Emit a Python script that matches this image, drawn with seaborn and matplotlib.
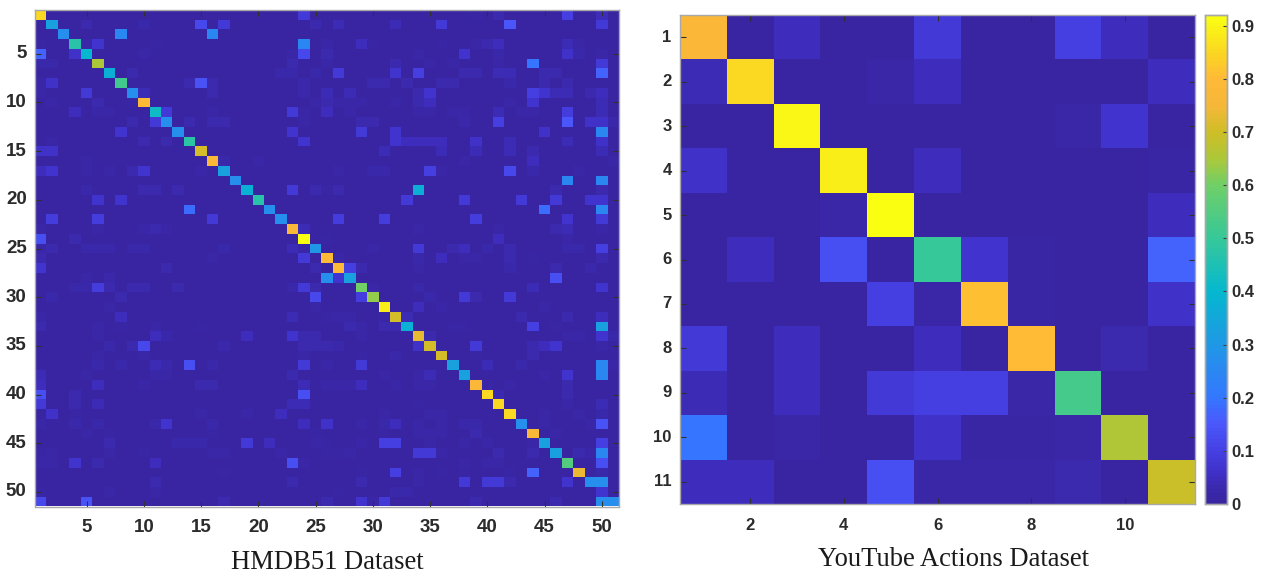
import numpy as np
import pandas as pd
import seaborn as sns
import matplotlib.pyplot as plt
from matplotlib.colors import LinearSegmentedColormap

# HMDB51 matrix, diagonal values row by row
hmdb_diag = [.855, .33, .27, .47, .40, .65, .37, .52, .27, .80,
             .42, .27, .27, .48, .71, .77, .33, .27, .38, .47,
             .27, .27, .77, .92, .30, .80, .79, .33, .60, .63,
             .885, .71, .38, .73, .71, .71, .33, .33, .78, .85,
             .85, .85, .27, .77, .33, .33, .55, .74, .27, .07, .27]

# HMDB51 off diagonal cells, one list per row, (column, value)
hmdb_off = [
    [(24, .08), (47, .10), (50, .05), (41, .03), (39, .01)],
    [(5, .03), (10, .025), (15, .12), (17, .08), (25, .03), (27, .04), (32, .04), (36, .08), (42, .15), (50, .08)],
    [(8, .25), (16, .25)],
    [(6, .07), (5, .02), (1, .01), (11, .01), (24, .25), (26, .015), (29, .05), (30, .01), (36, .01), (39, .015), (40, .03), (41, .05), (47, .04), (48, .015)],
    [(1, .17), (4, .06), (10, .02), (23, .02), (24, .12), (26, .03), (34, .02), (38, .07), (41, .025), (47, .06), (48, .025), (50, .02)],
    [(1, .025), (2, .025), (23, .03), (26, .015), (32, .03), (35, .015), (37, .02), (41, .02), (44, .20), (50, .08)],
    [(9, .03), (22, .025), (23, .025), (25, .025), (27, .08), (32, .07), (34, .10), (38, .035), (39, .035), (41, .04), (42, .04), (45, .035), (46, .035), (50, .17)],
    [(1, .015), (2, .06), (14, .03), (15, .14), (16, .03), (24, .025), (30, .03), (31, .03), (33, .03), (36, .035), (37, .035), (42, .025), (45, .03), (47, .03)],
    [(1, .02), (5, .08), (10, .04), (16, .035), (24, .025), (26, .04), (28, .04), (34, .03), (35, .07), (44, .10), (45, .07), (46, .04), (47, .04), (49, .03), (50, .05)],
    [(2, .02), (6, .03), (9, .01), (25, .015), (26, .03), (27, .02), (28, .02), (29, .02), (32, .02), (34, .03), (35, .05), (42, .02), (44, .07), (50, .04)],
    [(4, .05), (6, .02), (7, .02), (12, .08), (16, .02), (23, .08), (24, .02), (26, .05), (28, .015), (34, .02), (35, .02), (37, .02), (38, .02), (41, .04), (43, .02), (44, .02), (47, .09), (50, .04)],
    [(9, .03), (11, .08), (14, .03), (16, .03), (17, .03), (24, .02), (29, .035), (30, .035), (38, .025), (41, .10), (47, .15), (49, .06), (50, .06), (51, .025)],
    [(8, .07), (23, .07), (29, .08), (32, .07), (45, .06), (50, .25)],
    [(2, .02), (10, .03), (12, .03), (24, .07), (32, .07), (33, .045), (34, .045), (35, .045), (36, .045), (39, .06), (42, .04), (47, .04), (50, .06)],
    [(1, .06), (2, .06), (31, .04), (36, .04), (39, .04), (42, .04), (44, .03), (50, .04)],
    [(5, .015), (17, .025), (20, .02), (38, .02), (44, .05), (51, .02)],
    [(1, .05), (2, .07), (5, .02), (7, .02), (9, .03), (10, .07), (15, .02), (27, .02), (30, .025), (31, .025), (35, .10), (36, .02), (42, .12), (44, .025), (48, .02)],
    [(47, .25), (50, .25)],
    [(5, .025), (10, .03), (11, .03), (13, .03), (23, .08), (25, .03), (26, .01), (27, .03), (34, .37), (46, .03), (50, .03)],
    [(6, .07), (8, .07), (33, .08), (38, .08), (43, .08), (46, .08), (49, .07), (50, .07)],
    [(14, .18), (45, .18), (50, .25)],
    [(2, .09), (6, .09), (16, .08), (27, .09), (31, .09), (39, .09), (47, .07), (50, .08)],
    [(1, .02), (6, .015), (10, .015), (11, .03), (12, .015), (24, .04), (34, .02), (41, .02), (46, .03), (47, .04), (50, .02)],
    [(1, .13), (4, .03), (26, .01), (41, .05), (47, .02)],
    [(1, .02), (2, .03), (5, .025), (6, .025), (7, .025), (9, .025), (10, .025), (17, .025), (23, .04), (24, .02), (30, .02), (34, .08), (37, .03), (38, .05), (40, .025), (42, .03), (47, .025), (48, .025), (50, .10)],
    [(1, .03), (16, .015), (24, .08), (27, .015), (34, .025), (36, .05), (38, .015), (39, .015), (42, .03), (44, .01), (50, .03)],
    [(1, .07), (12, .03), (25, .03), (28, .10), (29, .03), (34, .02), (42, .025), (46, .03), (49, .025)],
    [(5, .02), (7, .025), (26, .27), (27, .07), (46, .13)],
    [(4, .025), (5, .025), (6, .09), (7, .03), (9, .03), (10, .03), (13, .03), (23, .025), (24, .08), (25, .03), (30, .02), (34, .025), (44, .04), (50, .07)],
    [(2, .025), (8, .03), (25, .12), (29, .09), (35, .025), (38, .08), (39, .03), (42, .08)],
    [(7, .02), (25, .02), (34, .05), (36, .02), (45, .02)],
    [(1, .015), (8, .05), (23, .04), (26, .01), (27, .015), (28, .015), (31, .015), (33, .04), (43, .03), (47, .03), (50, .05)],
    [(1, .03), (6, .015), (8, .01), (11, .02), (15, .01), (28, .03), (29, .015), (31, .03), (32, .03), (37, .01), (38, .01), (44, .10), (46, .01), (50, .33)],
    [(6, .02), (11, .05), (12, .025), (19, .05), (23, .07), (24, .03), (25, .03), (29, .02), (35, .03), (47, .02), (48, .02), (50, .07), (51, .025)],
    [(7, .025), (9, .03), (10, .12), (17, .025), (24, .03), (25, .03), (26, .03), (27, .025), (34, .06), (39, .08), (44, .03), (45, .05), (46, .07), (50, .02)],
    [(6, .015), (10, .015), (24, .015), (29, .01), (32, .025), (39, .01), (44, .03)],
    [(6, .025), (8, .025), (11, .04), (12, .025), (14, .13), (16, .025), (24, .08), (26, .02), (29, .08), (40, .04), (43, .025), (50, .25), (51, .02)],
    [(1, .04), (5, .02), (11, .02), (12, .02), (23, .03), (31, .02), (34, .02), (35, .04), (45, .02), (47, .07), (50, .25)],
    [(1, .05), (6, .05), (10, .02), (15, .03), (16, .03), (24, .04), (26, .02), (27, .02), (28, .02), (29, .05), (32, .02), (34, .02), (35, .02), (40, .02), (42, .02), (47, .03)],
    [(1, .13), (4, .03), (24, .13), (41, .03), (47, .03)],
    [(1, .08), (4, .035), (6, .04), (23, .04), (24, .04), (34, .01), (47, .015), (50, .04)],
    [(2, .06), (4, .01), (15, .02), (19, .02), (22, .05), (31, .02), (35, .015), (36, .02), (45, .02), (48, .02), (50, .025)],
    [(1, .02), (4, .025), (6, .025), (11, .025), (12, .07), (16, .025), (24, .05), (26, .06), (29, .02), (31, .025), (32, .05), (34, .02), (36, .02), (38, .025), (39, .025), (45, .02), (49, .02), (50, .14)],
    [(5, .02), (7, .012), (16, .012), (25, .012), (31, .012), (34, .02), (35, .02), (36, .02), (39, .03), (46, .02)],
    [(7, .03), (13, .025), (14, .025), (15, .025), (19, .08), (21, .05), (25, .02), (26, .012), (29, .02), (31, .10), (32, .10), (35, .02), (38, .02), (40, .02), (44, .02), (50, .10)],
    [(1, .01), (2, .015), (7, .015), (10, .01), (16, .02), (17, .02), (22, .015), (26, .01), (27, .01), (28, .02), (34, .08), (35, .08), (36, .02), (41, .03), (44, .03), (48, .03), (49, .02), (50, .25)],
    [(1, .02), (2, .02), (4, .07), (6, .03), (11, .05), (23, .13), (24, .015), (38, .02), (40, .015), (41, .015), (50, .13)],
    [(17, .012), (29, .012), (32, .10), (34, .02), (36, .01), (38, .01), (42, .012), (44, .17), (50, .025)],
    [(11, .03), (23, .03), (29, .03), (34, .02), (38, .08), (40, .08), (41, .08), (42, .03), (47, .07), (50, .27)],
    [(1, .01), (7, .02), (11, .02), (27, .012), (32, .025), (33, .025)],
    [(1, .12), (5, .14), (17, .03), (26, .035), (29, .07), (30, .02), (31, .08), (39, .03), (46, .03), (50, .27)],
]

# YouTube Actions matrix
youtube_classes = list(range(1, 12))
youtube_vals = [
    [.78, .00, .05, .00, .00, .08, .00, .00, .10, .05, .00],
    [.04, .85, .00, .00, .02, .05, .00, .00, .00, .00, .05],
    [.00, .00, .905, .00, .00, .00, .00, .00, .02, .07, .00],
    [.06, .00, .00, .885, .00, .05, .00, .00, .00, .00, .01],
    [.00, .00, .00, .02, .92, .00, .00, .00, .00, .00, .05],
    [.00, .05, .00, .13, .00, .50, .07, .01, .00, .00, .17],
    [.00, .00, .00, .00, .10, .02, .81, .01, .00, .00, .06],
    [.08, .00, .05, .00, .00, .05, .00, .80, .00, .03, .00],
    [.04, .00, .05, .00, .08, .10, .10, .02, .53, .00, .00],
    [.20, .00, .02, .00, .00, .06, .01, .01, .02, .655, .00],
    [.05, .05, .00, .00, .13, .02, .02, .02, .03, .00, .695],
]

hmdb_x_ticks = [5, 10, 15, 20, 25, 30, 35, 40, 45, 50]
hmdb_y_ticks = [5, 10, 15, 20, 25, 30, 35, 40, 45, 50]
youtube_x_ticks = [2, 4, 6, 8, 10]
cbar_ticks = [0, .1, .2, .3, .4, .5, .6, .7, .8, .9]
cbar_labels = ['0', '0.1', '0.2', '0.3', '0.4', '0.5', '0.6', '0.7', '0.8', '0.9']

hmdb = np.zeros((51, 51))
for i, row in enumerate(hmdb_off):
    hmdb[i, i] = hmdb_diag[i]
    for col, val in row:
        hmdb[i, col - 1] = val
hmdb_df = pd.DataFrame(hmdb, index=range(1, 52), columns=range(1, 52))
youtube_df = pd.DataFrame(youtube_vals, index=youtube_classes, columns=youtube_classes)

# parula style map as it looks in the picture, 0 to 0.92
vmax = 0.92
stops = [(0, '#3925a2'), (.03, '#3b29ae'), (.05, '#3f2fc4'), (.1, '#4640e4'), (.15, '#4a58fb'), (.2, '#3478ff'),
         (.3, '#1f98e4'), (.4, '#05b8cf'), (.5, '#36c899'), (.6, '#6fcf68'), (.65, '#abc83a'),
         (.7, '#cdbe26'), (.75, '#f5b738'), (.8, '#ffb938'), (.85, '#fbd522'), (.92, '#faff12')]
parula = LinearSegmentedColormap.from_list('parula', [(v / vmax, c) for v, c in stops], N=128)

W, H = 1261, 575
fig = plt.figure(figsize=(W / 100, H / 100), dpi=100)
bold = {'family': 'Liberation Sans', 'weight': 'bold', 'color': '#2b2b2b'}


def px_axes(left, top, right, bottom):
    return fig.add_axes([left / W, 1 - bottom / H, (right - left) / W, (bottom - top) / H])


def dress(ax, xticks, yticks, size, xpad):
    ax.set_xticks([t - .5 for t in xticks])
    ax.set_xticklabels(xticks, rotation=0, fontdict={**bold, 'size': size})
    ax.set_yticks([t - .5 for t in yticks])
    ax.set_yticklabels(yticks, rotation=0, fontdict={**bold, 'size': size})
    ax.tick_params(axis='x', direction='in', length=4, width=.8, color='#303030', top=True, pad=xpad)
    ax.tick_params(axis='y', direction='in', length=4, width=.8, color='#303030', right=True, pad=6)
    for s in ax.spines.values():
        s.set_visible(True)
        s.set_color('#a8a8a8')
        s.set_linewidth(1)


ax1 = px_axes(35, 10, 619, 506.5)
sns.heatmap(hmdb_df, ax=ax1, cmap=parula, vmin=0, vmax=vmax, cbar=False)
dress(ax1, hmdb_x_ticks, hmdb_y_ticks, 13.5, 9)

ax2 = px_axes(680, 15, 1195, 504)
cax = px_axes(1205, 15, 1227, 504)
sns.heatmap(youtube_df, ax=ax2, cmap=parula, vmin=0, vmax=vmax, cbar_ax=cax)
dress(ax2, youtube_x_ticks, youtube_classes, 12, 10)

cax.set_yticks(cbar_ticks)
cax.set_yticklabels(cbar_labels, fontdict={**bold, 'size': 12})
cax.tick_params(direction='in', length=3, width=.8, color='#404040', pad=3)
for s in cax.spines.values():
    s.set_visible(True)
    s.set_color('#a8a8a8')
    s.set_linewidth(1)

fig.text(327.5 / W, 1 - 569 / H, 'HMDB51 Dataset', family='Liberation Serif', size=19.2,
         color='#1a1a1a', ha='center', va='baseline')
fig.text(953.5 / W, 1 - 566 / H, 'YouTube Actions Dataset', family='Liberation Serif', size=19.2,
         color='#1a1a1a', ha='center', va='baseline')

fig.savefig('out.png', dpi=100)
